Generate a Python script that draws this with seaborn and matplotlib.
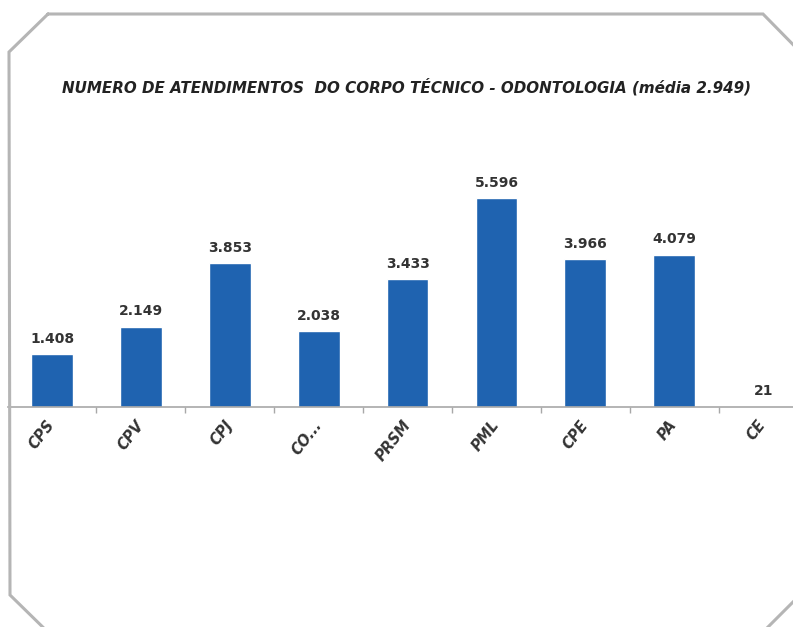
import matplotlib
matplotlib.use("Agg")
import matplotlib.pyplot as plt
from matplotlib.lines import Line2D
import seaborn as sns
import pandas as pd
import numpy as np

# atendimentos por unidade
categorias = ["CPS", "CPV", "CPJ", "CO...", "PRSM", "PML", "CPE", "PA", "CE"]
atendimentos = [1408, 2149, 3853, 2038, 3433, 5596, 3966, 4079, 21]
titulo = "NUMERO DE ATENDIMENTOS  DO CORPO TÉCNICO - ODONTOLOGIA (média 2.949)"

df = pd.DataFrame({"unidade": categorias, "total": atendimentos})

sns.set_theme(style="white")
plt.rcParams["font.family"] = ["DejaVu Sans"]

W, H = 793, 627
fig = plt.figure(figsize=(W / 100, H / 100), dpi=100)
fig.patch.set_facecolor("white")

# axes placed by pixel measurements of the reference
ax = fig.add_axes([7.6 / W, (H - 407) / H, 800 / W, 224 / H])
ax.patch.set_alpha(0)

sns.barplot(data=df, x="unidade", y="total", color="#1f63b0", width=0.47,
            saturation=1, ax=ax)
ax.set_xlim(-0.5, len(categorias) - 0.5)
ax.set_ylim(0, 6000)

rotulos = [f"{v:,}".replace(",", ".") for v in atendimentos]
ax.bar_label(ax.containers[0], labels=rotulos, padding=6, fontsize=10,
             fontweight="bold", color="#333333")

for s in ["top", "left", "right"]:
    ax.spines[s].set_visible(False)
ax.spines["bottom"].set_color("#a8a8a8")
ax.spines["bottom"].set_linewidth(1.2)
ax.set_yticks([])
ax.set_xlabel("")
ax.set_ylabel("")

# ticks between categories
ax.set_xticks(np.arange(len(categorias) - 1) + 0.5, minor=True)
ax.tick_params(axis="x", which="minor", length=4, color="#a8a8a8", width=1,
               bottom=True)
ax.tick_params(axis="x", which="major", length=0, pad=11)
for lbl in ax.get_xticklabels():
    lbl.set_rotation(52)
    lbl.set_ha("right")
    lbl.set_va("center")
    lbl.set_rotation_mode("anchor")
    lbl.set_fontstyle("italic")
    lbl.set_fontweight("bold")
    lbl.set_fontsize(10.5)
    lbl.set_color("#333333")

fig.text(406 / W, 1 - 87 / H, titulo, ha="center", va="center",
         fontsize=10.9, fontweight="bold", fontstyle="italic", color="#222222")

# octagonal frame around the chart
px = [48, 763, 820, 820, 755, 56, 10, 9, 48]
py = [14, 14, 72, 575, 640, 640, 595, 52, 14]
fx = [x / W for x in px]
fy = [1 - y / H for y in py]
fig.add_artist(Line2D(fx, fy, transform=fig.transFigure, color="#b5b5b5",
                      linewidth=2.2, solid_joinstyle="miter", clip_on=False))

fig.savefig("out.png", dpi=100)
plt.close(fig)
